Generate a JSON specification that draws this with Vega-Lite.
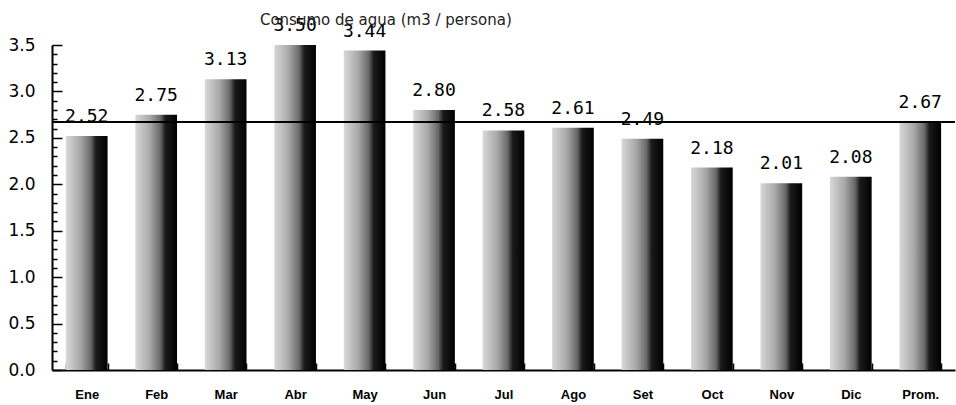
{
  "$schema": "https://vega.github.io/schema/vega-lite/v6.json",
  "width": 903,
  "height": 325,
  "autosize": "none",
  "padding": {"left": 52, "top": 45, "right": 1, "bottom": 35},
  "background": "white",
  "title": {"text": "Consumo de agua (m3 / persona)", "anchor": "start", "dx": 252, "offset": -11, "font": "DejaVu Sans", "fontSize": 15, "fontWeight": "normal", "color": "#222"},
  "config": {"view": {"stroke": null}},
  "data": {"values": [
    {"mes": "Ene", "v": 2.52},
    {"mes": "Feb", "v": 2.75},
    {"mes": "Mar", "v": 3.13},
    {"mes": "Abr", "v": 3.50},
    {"mes": "May", "v": 3.44},
    {"mes": "Jun", "v": 2.80},
    {"mes": "Jul", "v": 2.58},
    {"mes": "Ago", "v": 2.61},
    {"mes": "Set", "v": 2.49},
    {"mes": "Oct", "v": 2.18},
    {"mes": "Nov", "v": 2.01},
    {"mes": "Dic", "v": 2.08},
    {"mes": "Prom.", "v": 2.67}
  ]},
  "layer": [
    {
      "mark": {"type": "bar", "color": {"gradient": "linear", "x1": 0, "x2": 1, "y1": 0, "y2": 0, "stops": [
        {"offset": 0, "color": "#d8d8d8"},
        {"offset": 0.35, "color": "#a8a8a8"},
        {"offset": 0.6, "color": "#686868"},
        {"offset": 0.72, "color": "#1a1a1a"},
        {"offset": 1, "color": "#000000"}]}},
      "encoding": {
        "x": {"field": "mes", "type": "nominal", "sort": null,
          "scale": {"paddingInner": 0.4, "paddingOuter": 0.2},
          "axis": {"title": null, "labelAngle": 0, "labelFont": "Liberation Sans", "labelFontSize": 13, "labelFontWeight": "bold", "labelColor": "#000", "labelPadding": 25, "tickBand": "extent", "tickSize": -7, "tickColor": "#000", "tickWidth": 1.5, "domainColor": "#000", "domainWidth": 2}},
        "y": {"field": "v", "type": "quantitative", "scale": {"domain": [0, 3.5], "nice": false},
          "axis": {"title": null, "tickCount": 40, "values": [0, 0.1, 0.2, 0.3, 0.4, 0.5, 0.6, 0.7, 0.8, 0.9, 1, 1.1, 1.2, 1.3, 1.4, 1.5, 1.6, 1.7, 1.8, 1.9, 2, 2.1, 2.2, 2.3, 2.4, 2.5, 2.6, 2.7, 2.8, 2.9, 3, 3.1, 3.2, 3.3, 3.4, 3.5],
            "labelExpr": "abs(round(datum.value*2) - datum.value*2) < 0.01 ? format(datum.value, '.1f') : ''",
            "labelOverlap": false, "labelFlush": false,
            "grid": false, "labelFont": "DejaVu Sans", "labelFontSize": 17, "labelColor": "#000",
            "tickSize": {"condition": {"test": "abs(round(datum.value*2) - datum.value*2) < 0.01", "value": -10}, "value": -5},
            "tickColor": "#000", "tickWidth": 1.5, "labelPadding": 27, "domainColor": "#000", "domainWidth": 2}}
      }
    },
    {
      "mark": {"type": "text", "baseline": "bottom", "dy": -10, "font": "DejaVu Sans Mono", "fontSize": 18, "color": "#000"},
      "encoding": {
        "x": {"field": "mes", "type": "nominal", "sort": null},
        "y": {"field": "v", "type": "quantitative"},
        "text": {"field": "v", "type": "quantitative", "format": ".2f"}
      }
    },
    {
      "mark": {"type": "rule", "color": "#000", "strokeWidth": 1},
      "encoding": {"y": {"datum": 2.67}}
    }
  ]
}
